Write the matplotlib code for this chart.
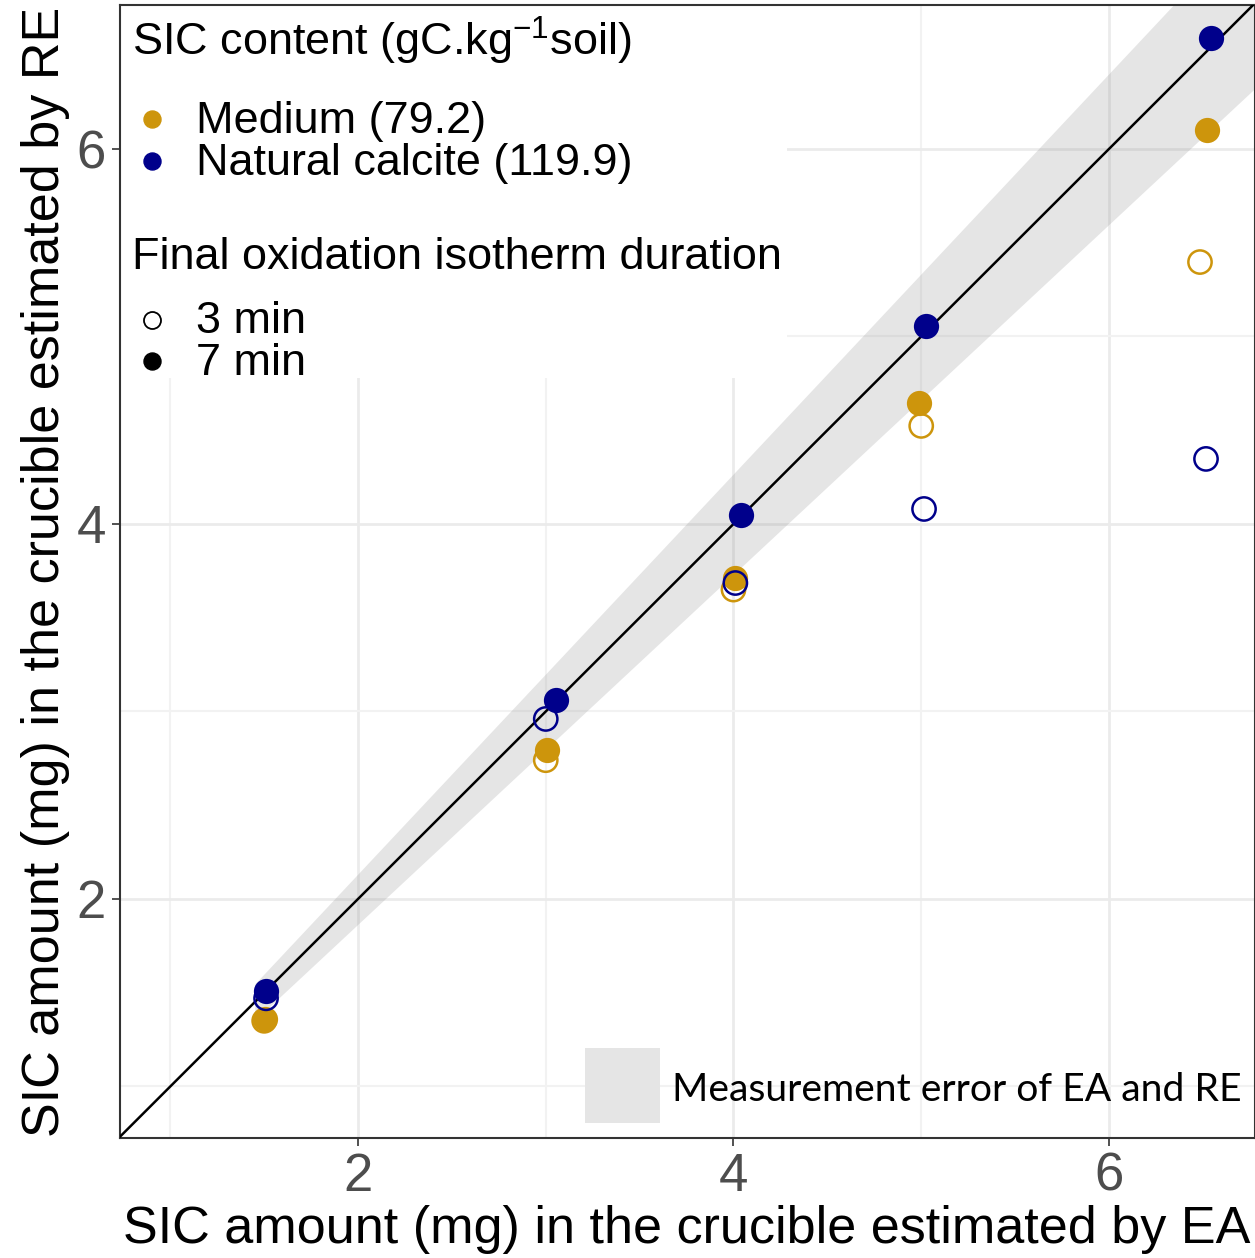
import matplotlib
matplotlib.use("Agg")
import matplotlib.pyplot as plt
from matplotlib.patches import Rectangle
from matplotlib import font_manager
import numpy as np

names = {f.name for f in font_manager.fontManager.ttflist}
MAIN = "Liberation Sans"

plt.rcParams['font.family'] = [MAIN, 'DejaVu Sans']
plt.rcParams['mathtext.fontset'] = 'custom'
plt.rcParams['mathtext.rm'] = MAIN
plt.rcParams['mathtext.it'] = MAIN
plt.rcParams['mathtext.bf'] = MAIN

# ---- data ----
medium_7_x = [1.505, 3.007, 4.01, 4.99, 6.52]
medium_7_y = [1.36, 2.795, 3.71, 4.645, 6.10]
medium_3_x = [1.50, 3.00, 4.00, 5.00, 6.485]
medium_3_y = [1.35, 2.74, 3.65, 4.523, 5.397]
natural_7_x = [1.51, 3.055, 4.04, 5.025, 6.543]
natural_7_y = [1.51, 3.06, 4.05, 5.056, 6.592]
natural_3_x = [1.51, 3.00, 4.01, 5.015, 6.517]
natural_3_y = [1.47, 2.96, 3.685, 4.08, 4.347]
band_x = [1.45, 7.0]
band_rel_error = 0.067
major_ticks = [2, 4, 6]
minor_ticks = [1, 3, 5]
group_labels = ["Medium (79.2)", "Natural calcite (119.9)"]
duration_labels = ["3 min", "7 min"]

C_MED = '#CD950C'
C_NAT = '#00008B'

fig = plt.figure(figsize=(12.55, 12.58), dpi=100)
ax = fig.add_axes([120/1255, 1 - 1138/1258, 1135/1255, 1133/1258])
ax.set_xlim(0.732, 6.778)
ax.set_ylim(0.725, 6.768)

# grid
ax.set_xticks(major_ticks)
ax.set_yticks(major_ticks)
ax.set_xticks(minor_ticks, minor=True)
ax.set_yticks(minor_ticks, minor=True)
ax.grid(True, which='major', color='#EBEBEB', linewidth=2.0, zorder=0)
ax.grid(True, which='minor', color='#F2F2F2', linewidth=1.5, zorder=0)
ax.set_axisbelow(True)
ax.tick_params(which='minor', length=0)
ax.tick_params(which='major', length=6, width=1.2, color='#333333',
               labelsize=38, labelcolor='#4D4D4D', pad=4)
for s in ax.spines.values():
    s.set_color('#333333')
    s.set_linewidth(1.5)

# legend white background
ax.add_patch(Rectangle((0, 0.6708), 0.5877, 0.3292, transform=ax.transAxes,
                       facecolor='white', edgecolor='none', zorder=1))

# band
bx = np.array(band_x)
ax.fill_between(bx, bx * (1 - band_rel_error), bx * (1 + band_rel_error),
                color='#7F7F7F', alpha=0.2, linewidth=0, zorder=2)
# 1:1 line
ax.axline((1, 1), slope=1, color='black', linewidth=1.8, zorder=3)

ms = 330
ax.scatter(medium_3_x, medium_3_y, s=ms * 0.85, facecolors='none', edgecolors=C_MED, linewidths=1.8, zorder=4)
ax.scatter(medium_7_x, medium_7_y, s=ms, color=C_MED, linewidths=0, zorder=4)
ax.scatter(natural_3_x, natural_3_y, s=ms * 0.85, facecolors='none', edgecolors=C_NAT, linewidths=1.8, zorder=4)
ax.scatter(natural_7_x, natural_7_y, s=ms, color=C_NAT, linewidths=0, zorder=4)

# legend (manual)
fs_leg = 32.4
ax.text(0.0106, 0.9550, r'SIC content (gC.kg$^{-1}$soil)', transform=ax.transAxes,
        fontsize=fs_leg, va='baseline', ha='left', zorder=5)
ax.scatter([0.0282], [0.8994], s=150, color=C_MED, transform=ax.transAxes, zorder=5, clip_on=False)
ax.scatter([0.0282], [0.8623], s=150, color=C_NAT, transform=ax.transAxes, zorder=5, clip_on=False)
ax.text(0.0670, 0.8870, group_labels[0], transform=ax.transAxes, fontsize=fs_leg, va='baseline', zorder=5)
ax.text(0.0670, 0.8500, group_labels[1], transform=ax.transAxes, fontsize=fs_leg, va='baseline', zorder=5)
ax.text(0.0106, 0.7670, 'Final oxidation isotherm duration', transform=ax.transAxes,
        fontsize=fs_leg, va='baseline', zorder=5)
ax.scatter([0.0282], [0.7220], s=150, facecolors='white', edgecolors='black', linewidths=1.3,
           transform=ax.transAxes, zorder=5, clip_on=False)
ax.scatter([0.0282], [0.6858], s=150, color='black', transform=ax.transAxes, zorder=5, clip_on=False)
ax.text(0.0670, 0.7105, duration_labels[0], transform=ax.transAxes, fontsize=fs_leg, va='baseline', zorder=5)
ax.text(0.0670, 0.6734, duration_labels[1], transform=ax.transAxes, fontsize=fs_leg, va='baseline', zorder=5)

# measurement error legend
ax.add_patch(Rectangle((0.4097, 0.0132), 0.0661, 0.0662, transform=ax.transAxes,
                       facecolor='#E5E5E5', edgecolor='none', zorder=5))
ax.text(0.4863, 0.0327, 'Measurement error of EA and RE', transform=ax.transAxes,
        fontsize=28.2, family=['Lato', 'DejaVu Sans'], va='baseline', ha='left', zorder=5)

ax.set_xlabel('SIC amount (mg) in the crucible estimated by EA', fontsize=37.5)
ax.set_ylabel('SIC amount (mg) in the crucible estimated by RE', fontsize=37.5)
ax.xaxis.set_label_coords(0.4996, -0.081)
ax.xaxis.label.set_va('center')
ax.yaxis.set_label_coords(-0.066, 0.4996)
ax.yaxis.label.set_va('center')

fig.savefig('out.png', dpi=100)
